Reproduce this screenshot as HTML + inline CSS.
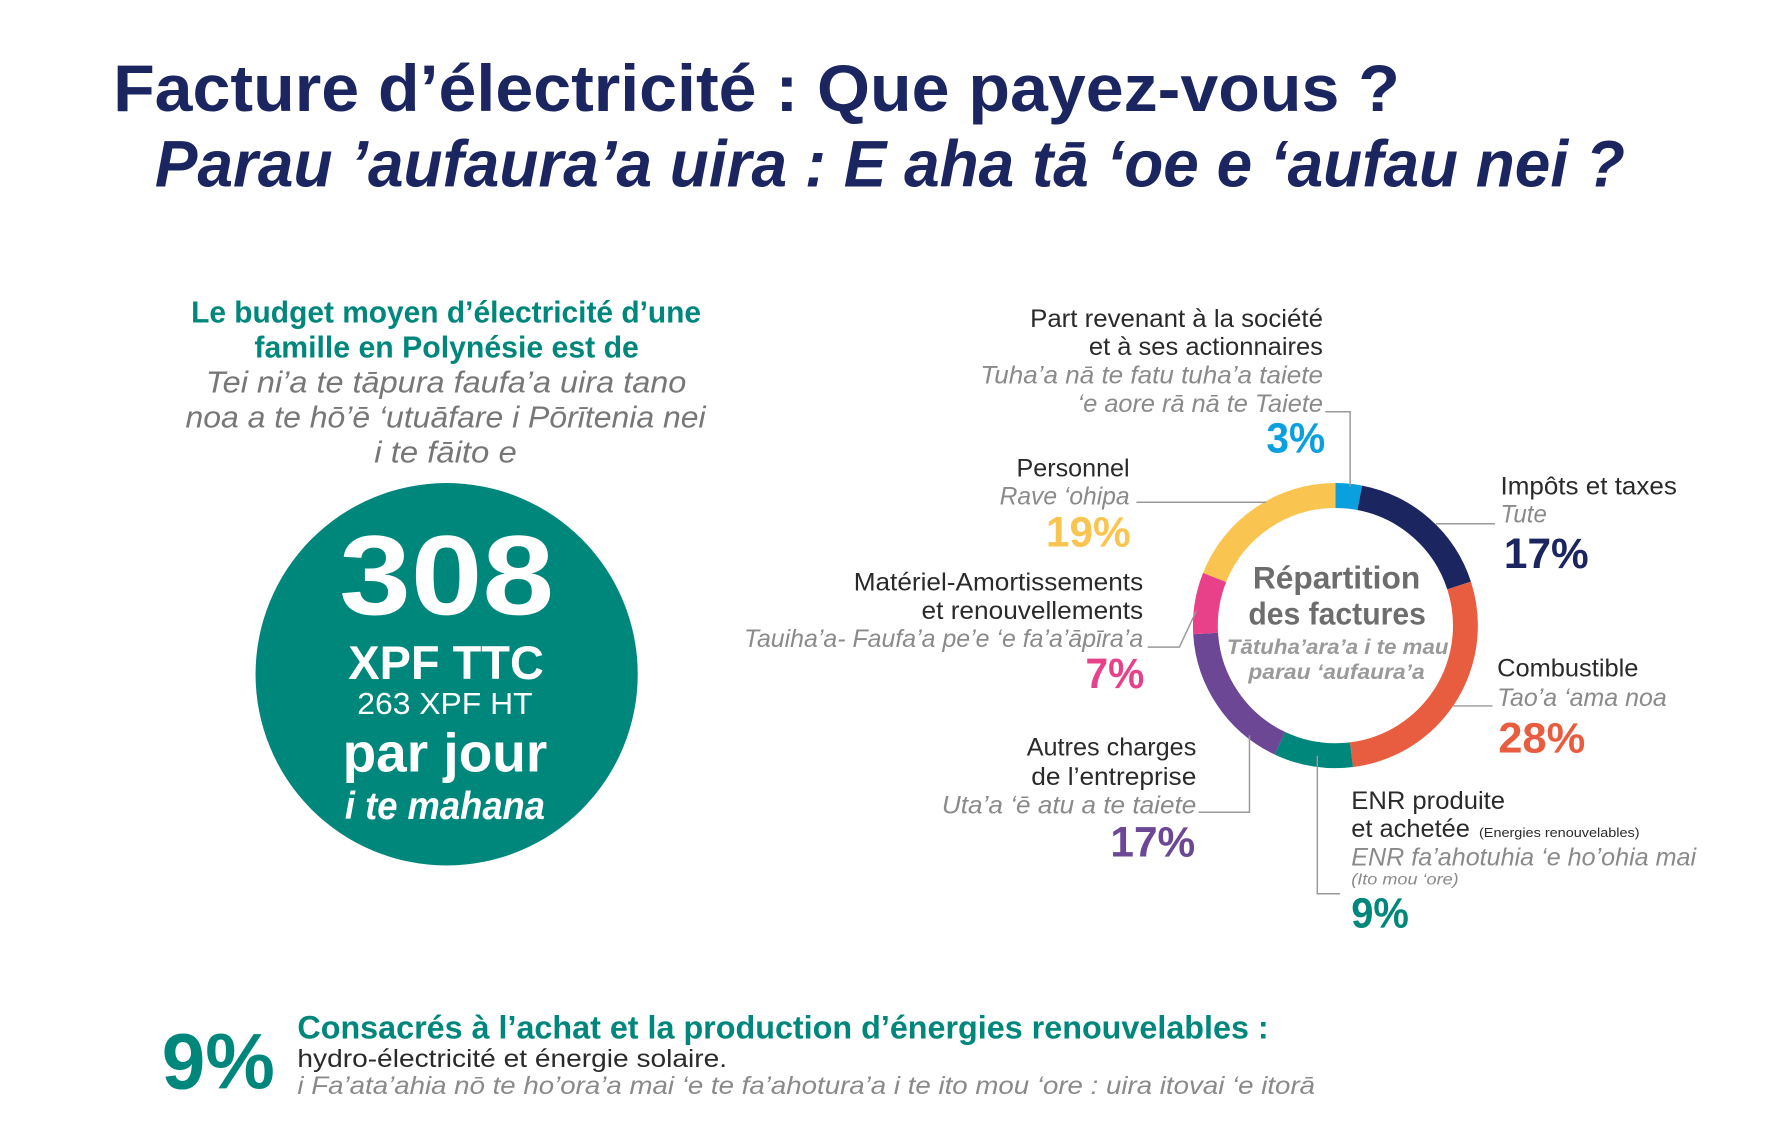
<!DOCTYPE html>
<html><head><meta charset="utf-8"><style>
html,body{margin:0;padding:0;background:#fff;width:1773px;height:1146px;overflow:hidden}
svg{display:block}
text{font-family:"Liberation Sans",sans-serif}
.n{fill:#1b2560;font-weight:bold}
.t{fill:#00877c}
.d{fill:#2a2a2a;font-size:22px}
.g{fill:#8a8a8a;font-size:22px;font-style:italic}
.p{font-weight:bold;font-size:38px}
.w{fill:#fff;font-weight:bold}
.l{stroke:#999;stroke-width:1.3;fill:none}
</style></head><body>
<svg width="1773" height="1146" viewBox="0 0 1568 1013" preserveAspectRatio="none">
<text x="100" y="98" class="n" font-size="58" textLength="1138" lengthAdjust="spacingAndGlyphs">Facture d’électricité : Que payez-vous ?</text>
<text x="137" y="165" class="n" font-size="58" font-style="italic" textLength="1300" lengthAdjust="spacingAndGlyphs">Parau ’aufaura’a uira : E aha tā ‘oe e ‘aufau nei ?</text>

<text x="169" y="285" class="t" font-size="27" font-weight="bold" textLength="451" lengthAdjust="spacingAndGlyphs">Le budget moyen d’électricité d’une</text>
<text x="225" y="316" class="t" font-size="27" font-weight="bold" textLength="340" lengthAdjust="spacingAndGlyphs">famille en Polynésie est de</text>
<text x="182" y="347" class="g" style="font-size:27px;fill:#777" textLength="425" lengthAdjust="spacingAndGlyphs">Tei ni’a te tāpura faufa’a uira tano</text>
<text x="164" y="378" class="g" style="font-size:27px;fill:#777" textLength="460" lengthAdjust="spacingAndGlyphs">noa a te hō’ē ‘utuāfare i Pōrītenia nei</text>
<text x="331" y="409" class="g" style="font-size:27px;fill:#777" textLength="126" lengthAdjust="spacingAndGlyphs">i te fāito e</text>

<circle cx="395" cy="596" r="169" fill="#00877c"/>
<text x="300" y="543" class="w" font-size="100" textLength="190" lengthAdjust="spacingAndGlyphs">308</text>
<text x="308" y="600" class="w" font-size="42" textLength="173" lengthAdjust="spacingAndGlyphs">XPF TTC</text>
<text x="316" y="631" fill="#fff" font-size="27" textLength="155" lengthAdjust="spacingAndGlyphs">263 XPF HT</text>
<text x="303" y="682" class="w" font-size="48" textLength="181" lengthAdjust="spacingAndGlyphs">par jour</text>
<text x="305" y="724" class="w" font-size="34" font-style="italic" textLength="177" lengthAdjust="spacingAndGlyphs">i te mahana</text>

<g transform="rotate(-90 1181 553)" fill="none" stroke-width="22">
<circle cx="1181" cy="553" r="115" stroke="#0aa0e0" stroke-dasharray="21.68 1000" stroke-dashoffset="0"/>
<circle cx="1181" cy="553" r="115" stroke="#1b2560" stroke-dasharray="122.84 1000" stroke-dashoffset="-21.68"/>
<circle cx="1181" cy="553" r="115" stroke="#e85d40" stroke-dasharray="202.33 1000" stroke-dashoffset="-144.52"/>
<circle cx="1181" cy="553" r="115" stroke="#00877c" stroke-dasharray="65.03 1000" stroke-dashoffset="-346.85"/>
<circle cx="1181" cy="553" r="115" stroke="#6b4796" stroke-dasharray="122.84 1000" stroke-dashoffset="-411.88"/>
<circle cx="1181" cy="553" r="115" stroke="#e8418a" stroke-dasharray="50.58 1000" stroke-dashoffset="-534.72"/>
<circle cx="1181" cy="553" r="115" stroke="#f9c550" stroke-dasharray="137.3 1000" stroke-dashoffset="-585.3"/>
</g>
<text x="1108" y="520" fill="#6d6d6d" font-weight="bold" font-size="28" textLength="148" lengthAdjust="spacingAndGlyphs">Répartition</text>
<text x="1104" y="552" fill="#6d6d6d" font-weight="bold" font-size="28" textLength="157" lengthAdjust="spacingAndGlyphs">des factures</text>
<text x="1085" y="578" fill="#9a9a9a" font-weight="bold" font-style="italic" font-size="19" textLength="196" lengthAdjust="spacingAndGlyphs">Tātuha’ara’a i te mau</text>
<text x="1104" y="600" fill="#9a9a9a" font-weight="bold" font-style="italic" font-size="19" textLength="156" lengthAdjust="spacingAndGlyphs">parau ‘aufaura’a</text>

<polyline class="l" points="1172,364 1194,364 1194,430"/>
<polyline class="l" points="1005,444 1120,444"/>
<polyline class="l" points="1015,572 1043,572 1058,540"/>
<polyline class="l" points="1060,718 1105,718 1105,650"/>
<polyline class="l" points="1165,668 1165,790 1185,790"/>
<polyline class="l" points="1270,463 1322,463"/>
<polyline class="l" points="1285,624 1320,624"/>

<text x="911" y="289" class="d" textLength="259" lengthAdjust="spacingAndGlyphs">Part revenant à la société</text>
<text x="963" y="314" class="d" textLength="207" lengthAdjust="spacingAndGlyphs">et à ses actionnaires</text>
<text x="867" y="339" class="g" textLength="303" lengthAdjust="spacingAndGlyphs">Tuha’a nā te fatu tuha’a taiete</text>
<text x="953" y="364" class="g" textLength="217" lengthAdjust="spacingAndGlyphs">‘e aore rā nā te Taiete</text>
<text x="1120" y="400" class="p" fill="#0aa0e0" textLength="52" lengthAdjust="spacingAndGlyphs">3%</text>

<text x="899" y="421" class="d" textLength="100" lengthAdjust="spacingAndGlyphs">Personnel</text>
<text x="884" y="446" class="g" textLength="115" lengthAdjust="spacingAndGlyphs">Rave ‘ohipa</text>
<text x="925" y="483" class="p" fill="#f9c550" textLength="75" lengthAdjust="spacingAndGlyphs">19%</text>

<text x="755" y="522" class="d" textLength="256" lengthAdjust="spacingAndGlyphs">Matériel-Amortissements</text>
<text x="815" y="547" class="d" textLength="196" lengthAdjust="spacingAndGlyphs">et renouvellements</text>
<text x="658" y="572" class="g" textLength="353" lengthAdjust="spacingAndGlyphs">Tauiha’a- Faufa’a pe’e ‘e fa’a’āpīra’a</text>
<text x="960" y="608" class="p" fill="#e8418a" textLength="52" lengthAdjust="spacingAndGlyphs">7%</text>

<text x="908" y="668" class="d" textLength="150" lengthAdjust="spacingAndGlyphs">Autres charges</text>
<text x="912" y="694" class="d" textLength="146" lengthAdjust="spacingAndGlyphs">de l’entreprise</text>
<text x="833" y="719" class="g" textLength="225" lengthAdjust="spacingAndGlyphs">Uta’a ‘ē atu a te taiete</text>
<text x="982" y="757" class="p" fill="#6b4796" textLength="75" lengthAdjust="spacingAndGlyphs">17%</text>

<text x="1195" y="715" class="d" textLength="136" lengthAdjust="spacingAndGlyphs">ENR produite</text>
<text x="1195" y="740" class="d" textLength="105" lengthAdjust="spacingAndGlyphs">et achetée</text>
<text x="1308" y="740" fill="#2a2a2a" font-size="11" textLength="142" lengthAdjust="spacingAndGlyphs">(Energies renouvelables)</text>
<text x="1195" y="765" class="g" textLength="305" lengthAdjust="spacingAndGlyphs">ENR fa’ahotuhia ‘e ho’ohia mai</text>
<text x="1195" y="782" class="g" style="font-size:14px" textLength="95" lengthAdjust="spacingAndGlyphs">(Ito mou ‘ore)</text>
<text x="1195" y="820" class="p" fill="#00877c" textLength="51" lengthAdjust="spacingAndGlyphs">9%</text>

<text x="1327" y="437" class="d" textLength="156" lengthAdjust="spacingAndGlyphs">Impôts et taxes</text>
<text x="1327" y="462" class="g" textLength="41" lengthAdjust="spacingAndGlyphs">Tute</text>
<text x="1330" y="502" class="p" fill="#1b2560" textLength="75" lengthAdjust="spacingAndGlyphs">17%</text>

<text x="1324" y="598" class="d" textLength="125" lengthAdjust="spacingAndGlyphs">Combustible</text>
<text x="1324" y="624" class="g" textLength="150" lengthAdjust="spacingAndGlyphs">Tao’a ‘ama noa</text>
<text x="1325" y="665" class="p" fill="#e85d40" textLength="77" lengthAdjust="spacingAndGlyphs">28%</text>

<text x="143" y="962" fill="#00877c" font-weight="bold" font-size="70" textLength="100" lengthAdjust="spacingAndGlyphs">9%</text>
<text x="263" y="918" fill="#00877c" font-weight="bold" font-size="29" textLength="859" lengthAdjust="spacingAndGlyphs">Consacrés à l’achat et la production d’énergies renouvelables :</text>
<text x="263" y="943" class="d" textLength="380" lengthAdjust="spacingAndGlyphs">hydro-électricité et énergie solaire.</text>
<text x="263" y="967" class="g" textLength="900" lengthAdjust="spacingAndGlyphs">i Fa’ata’ahia nō te ho’ora’a mai ‘e te fa’ahotura’a i te ito mou ‘ore : uira itovai ‘e itorā</text>
</svg>
</body></html>
